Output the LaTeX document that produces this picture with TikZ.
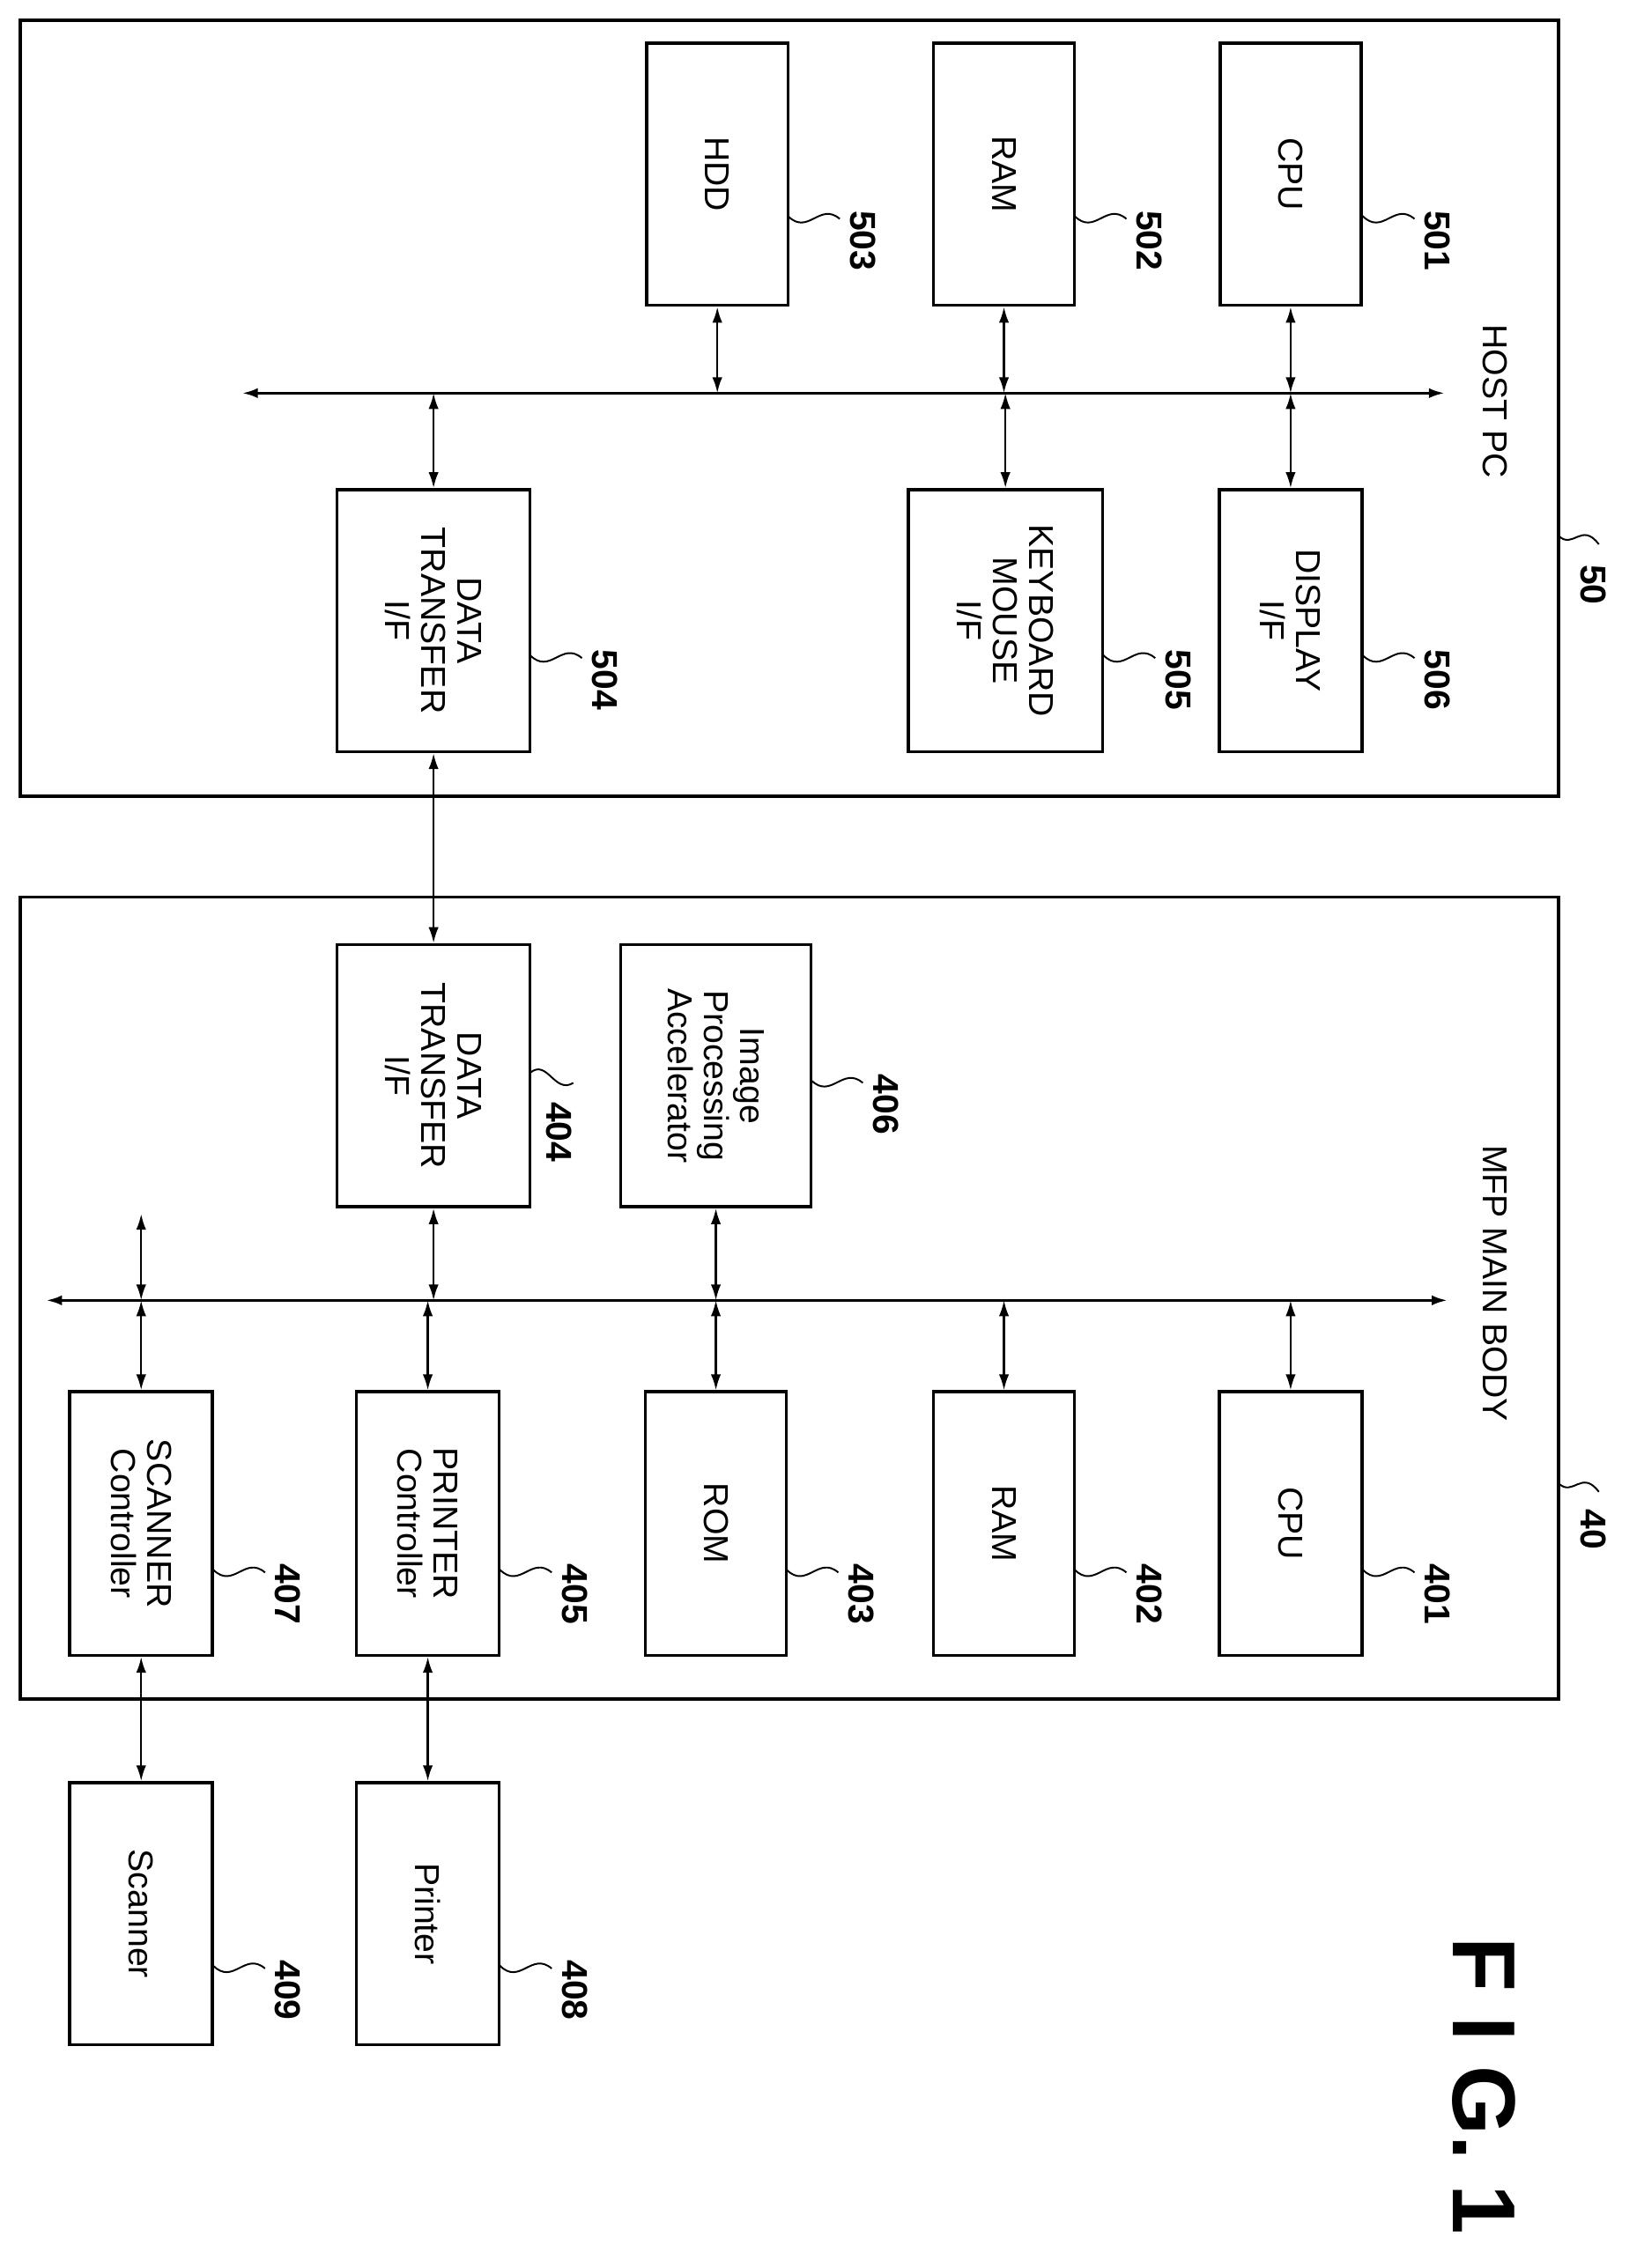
\documentclass[tikz,border=0pt]{standalone}
\usepackage{fontspec}
\setmainfont{Liberation Sans}
\usetikzlibrary{arrows.meta}
\tikzset{
  blk/.style={draw, line width=2.2pt, rotate=-90, align=center, inner sep=0pt,
    font=\fontsize{24}{25}\selectfont},
  bidir/.style={line width=1.4pt, {Latex[length=11pt,width=7pt]}-{Latex[length=11pt,width=7pt]}},
  lbl/.style={rotate=-90, font=\bfseries\fontsize{25}{26}\selectfont, inner sep=0pt}
}
% squiggle leader from a box edge to its reference number
\newcommand{\refnum}[3]{%
  \draw[line width=1.2pt] (#1,-#2) .. controls (#1+14,-#2-14) and (#1+22,-#2+10) .. (#1+36,-#2-2);
  \node[lbl, anchor=west] at (#1+52,-#2+4) {#3};}
\begin{document}
\begin{tikzpicture}[x=1pt,y=1pt]
  \useasboundingbox (0,0) rectangle (1141,-1575);
  % host pc
  \draw[line width=2.2pt] (14,-14) rectangle (1082,-553);
  \node[lbl, font=\fontsize{24}{25}\selectfont, anchor=west] at (1038,-225) {HOST PC};
  \draw[line width=1.2pt] (1082,-372) .. controls (1092,-382) and (1098,-362) .. (1110,-378);
  \node[lbl, anchor=west] at (1106,-392) {50};
  \node[blk, minimum width=182pt, minimum height=98pt] (hdd) at (498,-121) {HDD};
  \node[blk, minimum width=182pt, minimum height=98pt] (ram5) at (697,-121) {RAM};
  \node[blk, minimum width=182pt, minimum height=98pt] (cpu5) at (896,-121) {CPU};
  \refnum{547}{150}{503}
  \refnum{746}{150}{502}
  \refnum{946}{150}{501}
  \coordinate (hbusL) at (168,-273);
  \coordinate (hbusR) at (1003,-273);
  \draw[bidir, line width=2pt] (hbusL) -- (hbusR);
  \node[blk, minimum width=182pt, minimum height=134pt] (dtf5) at (301,-431) {DATA\\TRANSFER\\I/F};
  \node[blk, minimum width=182pt, minimum height=135pt] (kbd) at (698,-431) {KEYBOARD\\MOUSE\\I/F};
  \node[blk, minimum width=182pt, minimum height=99pt] (disp) at (896,-431) {DISPLAY\\I/F};
  \refnum{368}{455}{504}
  \refnum{766}{455}{505}
  \refnum{946}{455}{506}
  \foreach \b in {hdd, ram5, cpu5} \draw[bidir] (\b.east) -- (\b.east |- hbusL);
  \foreach \b in {dtf5, kbd, disp} \draw[bidir] (\b.west) -- (\b.west |- hbusL);
  % mfp main body
  \draw[line width=2.2pt] (14,-623) rectangle (1082,-1180);
  \node[lbl, font=\fontsize{24}{25}\selectfont, anchor=west] at (1038,-795) {MFP MAIN BODY};
  \draw[line width=1.2pt] (1082,-1030) .. controls (1092,-1040) and (1098,-1020) .. (1110,-1036);
  \node[lbl, anchor=west] at (1106,-1048) {40};
  \node[blk, minimum width=182pt, minimum height=134pt] (dtf4) at (301,-747) {DATA\\TRANSFER\\I/F};
  \node[blk, minimum width=182pt, minimum height=132pt] (ipa) at (497,-747) {Image\\Processing\\Accelerator};
  \draw[line width=1.2pt] (368,-745) .. controls (380,-735) and (385,-760) .. (398,-752);
  \node[lbl, anchor=west] at (388,-765) {404};
  \refnum{563}{750}{406}
  \draw[bidir] (dtf5.east) -- (dtf4.west);
  \coordinate (mbusL) at (32,-903);
  \coordinate (mbusR) at (1005,-903);
  \draw[bidir, line width=2pt] (mbusL) -- (mbusR);
  \node[blk, minimum width=183pt, minimum height=99pt] (scc) at (98,-1058) {SCANNER\\Controller};
  \node[blk, minimum width=183pt, minimum height=99pt] (prc) at (297,-1058) {PRINTER\\Controller};
  \node[blk, minimum width=183pt, minimum height=98pt] (rom) at (497,-1058) {ROM};
  \node[blk, minimum width=183pt, minimum height=98pt] (ram4) at (697,-1058) {RAM};
  \node[blk, minimum width=183pt, minimum height=99pt] (cpu4) at (896,-1058) {CPU};
  \refnum{148}{1090}{407}
  \refnum{347}{1090}{405}
  \refnum{546}{1090}{403}
  \refnum{746}{1090}{402}
  \refnum{946}{1090}{401}
  \foreach \b in {dtf4, ipa} \draw[bidir] (\b.east) -- (\b.east |- mbusL);
  \foreach \b in {scc, prc, rom, ram4, cpu4} \draw[bidir] (\b.west |- mbusL) -- (\b.west);
  \coordinate (ext) at (98,-843);
  \draw[bidir] (ext) -- (ext |- mbusL);
  % devices
  \node[blk, minimum width=182pt, minimum height=99pt] (prn) at (297,-1329) {Printer};
  \node[blk, minimum width=182pt, minimum height=99pt] (scn) at (98,-1329) {Scanner};
  \refnum{347}{1365}{408}
  \refnum{148}{1365}{409}
  \draw[bidir] (prc.east) -- (prn.west);
  \draw[bidir] (scc.east) -- (scn.west);
  \node[lbl, font=\bfseries\fontsize{62}{64}\selectfont, anchor=west] at (1030,-1345) {F I G. 1};
\end{tikzpicture}
\end{document}
